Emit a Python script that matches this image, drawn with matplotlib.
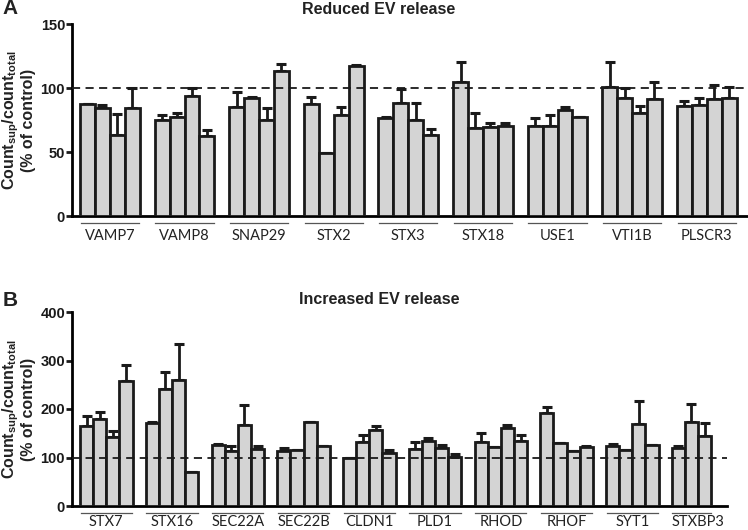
import matplotlib
matplotlib.use("Agg")
import matplotlib.pyplot as plt
import numpy as np

plt.rcParams['font.family'] = ['Liberation Sans', 'DejaVu Sans']
plt.rcParams['mathtext.fontset'] = 'custom'
plt.rcParams['mathtext.rm'] = 'Liberation Sans:bold'
plt.rcParams['mathtext.bf'] = 'Liberation Sans:bold'

# Panel A: reduced EV release (4 bars per gene, mean and upper SEM)
genes_a = ['VAMP7', 'VAMP8', 'SNAP29', 'STX2', 'STX3', 'STX18', 'USE1', 'VTI1B', 'PLSCR3']
mean_a = [
    [87.3, 84.7, 63.5, 84.2],
    [75.1, 77.7, 93.8, 62.2],
    [85.5, 92.5, 75.1, 113.5],
    [87.3, 49.2, 79.0, 117.1],
    [76.4, 88.0, 75.1, 63.5],
    [104.9, 68.7, 69.2, 70.7],
    [70.0, 70.5, 82.9, 77.0],
    [100.5, 92.0, 80.3, 91.2],
    [86.0, 86.8, 91.2, 92.0],
]
sem_a = [
    [0.5, 2.3, 16.3, 16.1],
    [3.9, 2.9, 5.9, 5.2],
    [11.5, 0.5, 9.6, 5.1],
    [6.0, 0.0, 6.0, 0.5],
    [1.3, 11.2, 12.9, 4.6],
    [15.1, 12.1, 3.8, 2.3],
    [6.2, 8.3, 2.1, 0.0],
    [19.7, 7.7, 5.7, 13.5],
    [4.2, 5.4, 10.8, 8.8],
]

# Panel B: increased EV release
genes_b = ['STX7', 'STX16', 'SEC22A', 'SEC22B', 'CLDN1', 'PLD1', 'RHOD', 'RHOF', 'SYT1', 'STXBP3']
mean_b = [
    [164.4, 180.0, 141.8, 258.0],
    [171.0, 241.8, 259.6, 70.5],
    [126.0, 114.4, 167.0, 117.8],
    [114.4, 115.8, 172.6, 124.7],
    [100.0, 132.0, 157.5, 109.6],
    [117.8, 133.6, 119.0, 101.4],
    [132.9, 122.0, 160.3, 135.0],
    [191.8, 130.0, 113.0, 122.0],
    [123.3, 116.4, 168.5, 126.7],
    [120.0, 172.6, 143.8],
]
sem_b = [
    [20.6, 13.8, 12.2, 31.7],
    [1.6, 34.9, 74.0, 0.0],
    [2.0, 8.6, 42.0, 5.2],
    [6.1, 0.5, 1.4, 0.0],
    [0.0, 15.0, 8.3, 5.4],
    [15.1, 6.8, 7.0, 6.8],
    [17.8, 0.0, 7.5, 11.6],
    [12.2, 0.5, 0.0, 2.7],
    [4.7, 0.0, 47.3, 0.0],
    [4.7, 38.4, 27.2],
]

W, H = 748, 530
fig = plt.figure(figsize=(W / 100, H / 100), dpi=100)
ink = '#1a1a1a'


def panel(rect, genes, means, sems, ymax, step, xlim, title, letter, title_y, letter_y, lab_off):
    x0, top, x1, bot = rect
    ax = fig.add_axes([x0 / W, 1 - bot / H, (x1 - x0) / W, (bot - top) / H])
    h_px = bot - top
    for g, (m, s) in enumerate(zip(means, sems)):
        x = g * 5 + np.arange(len(m)) + 0.5
        ax.errorbar(x, m, yerr=[np.zeros(len(s)), s], fmt='none', ecolor=ink,
                    elinewidth=2.0, capsize=3.5, capthick=2.2, zorder=2)
        ax.bar(x, m, width=1.0, color='#d4d4d4', edgecolor=ink, linewidth=2.0, zorder=3)
        # group underline and gene label
        left, right = g * 5, g * 5 + len(m)
        ax.plot([left + 0.05, right - 0.05], [-7 / h_px, -7 / h_px], color='#555555', lw=0.9,
                transform=ax.get_xaxis_transform(), clip_on=False)
        ax.text(g * 5 + 2, -lab_off / h_px, genes[g], transform=ax.get_xaxis_transform(),
                ha='center', va='center', fontsize=10.5, family=['Lato', 'DejaVu Sans'],
                color='#222222')
    ax.axhline(100, color=ink, lw=1.3, ls=(0, (4.5, 3)), zorder=4)
    ax.set_xlim(xlim)
    ax.set_ylim(0, ymax)
    ax.set_yticks(np.arange(0, ymax + 1, step))
    ax.set_xticks([])
    for sp in ['top', 'right']:
        ax.spines[sp].set_visible(False)
    ax.spines['left'].set_linewidth(2.0)
    ax.spines['bottom'].set_linewidth(2.0)
    ax.tick_params(axis='y', length=4, width=2.0, labelsize=10.5, pad=1, colors=ink)
    for lab in ax.get_yticklabels():
        lab.set_fontweight('bold')
    # titles and panel letters
    fig.text(379 / W, 1 - title_y / H, title, ha='center', va='center',
             fontsize=11.5, fontweight='bold', color='#222222')
    fig.text(10 / W, 1 - letter_y / H, letter, ha='center', va='center',
             fontsize=15, fontweight='bold', color='#222222')
    yc = 1 - (top + bot) / 2 / H
    fig.text(11 / W, yc, r'Count$_{\mathrm{sup}}$/count$_{\mathrm{total}}$', rotation=90,
             ha='center', va='center', fontsize=11.5, fontweight='bold', color='#222222')
    fig.text(29 / W, yc, '(% of control)', rotation=90, ha='center', va='center',
             fontsize=11.5, fontweight='bold', color='#222222')
    return ax


panel((72, 24, 747, 216), genes_a, mean_a, sem_a, 150, 50, (-0.54, 44.7),
      'Reduced EV release', 'A', 9, 8, 20)
panel((72, 312, 727, 506), genes_b, mean_b, sem_b, 400, 100, (-0.61, 49.2),
      'Increased EV release', 'B', 299, 301, 16.5)

fig.savefig('out.png', dpi=100)
